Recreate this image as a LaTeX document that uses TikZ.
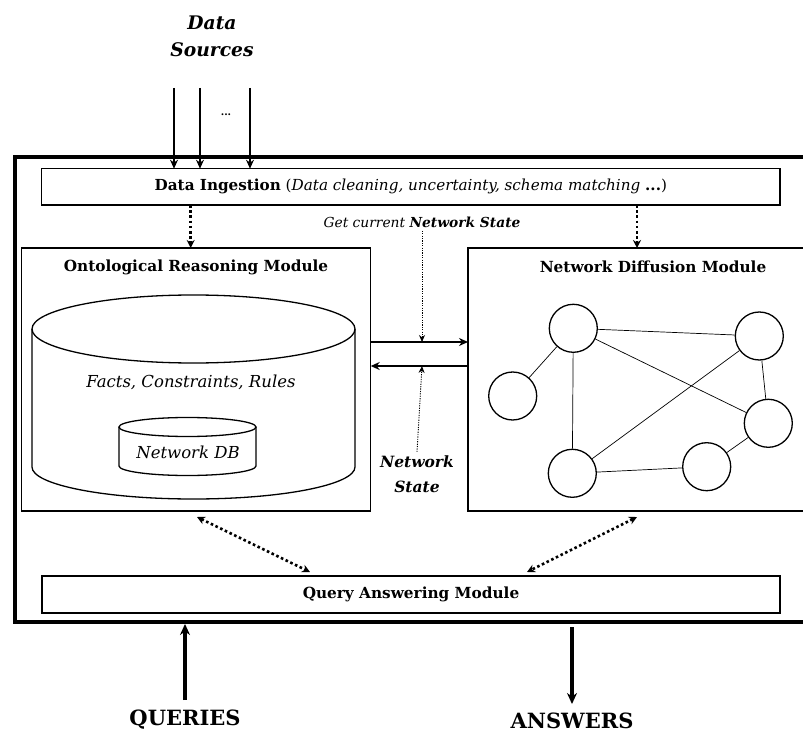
\documentclass[tikz,border=0pt]{standalone}
\usepackage{fontspec}
\setmainfont{DejaVu Serif}
\usetikzlibrary{arrows.meta}
\begin{document}
\begin{tikzpicture}[x=1pt,y=-1pt,
  box/.style={draw,line width=1.4pt,inner sep=0pt,outer sep=0pt},
  vtx/.style={draw,circle,line width=1.3pt,minimum size=48pt,inner sep=0pt},
  link/.style={line width=0.7pt},
  feed/.style={line width=2.6pt,-{Stealth[length=9pt,width=8pt]}},
  bigfeed/.style={line width=3.4pt,-{Stealth[length=11pt,width=10pt]}},
  dotfeed/.style={line width=2.6pt,dash pattern=on 2.6pt off 2.6pt,-{Stealth[length=8pt,width=8pt]}},
  dotboth/.style={line width=2.6pt,dash pattern=on 2.6pt off 2.6pt,{Stealth[length=8pt,width=8pt]}-{Stealth[length=8pt,width=8pt]}},
  thindot/.style={line width=0.9pt,dash pattern=on 1.2pt off 1.2pt,-{Stealth[length=7pt,width=6pt]}},
  title/.style={font=\bfseries\fontsize{15.3}{18}\selectfont},
  cyl/.style={line width=1.3pt}
]
\useasboundingbox (0,0) rectangle (803,735);
\clip (0,0) rectangle (803,735);

% outer frame (runs off the right edge)
\node[draw,line width=4pt,inner sep=0pt,anchor=north west,
      minimum width=860pt,minimum height=465pt] (frame) at (12.5,155) {};

% data ingestion bar
\node[box,anchor=north west,minimum width=738.3pt,minimum height=36.3pt,
      font=\fontsize{15.2}{18}\selectfont] (di) at (41.7,168.7)
  {\textbf{Data Ingestion} (\textit{Data cleaning, uncertainty, schema matching} \textbf{...})};

% data sources
\node[font=\bfseries\itshape\fontsize{18.7}{27}\selectfont,align=center] (src) at (212,36) {Data\\Sources};
\coordinate (s1) at (174,88);
\coordinate (s2) at (200,88);
\coordinate (s3) at (250,88);
\node[font=\bfseries\fontsize{10}{12}\selectfont] (dots) at (226,115) {...};
\draw[feed] (s1) -- (s1 |- di.north);
\draw[feed] (s2) -- (s2 |- di.north);
\draw[feed] (s3) -- (s3 |- di.north);

% ontological reasoning module
\node[box,anchor=north west,minimum width=349.2pt,minimum height=263pt] (orm) at (21.5,248) {};
\node[title] (ormt) at (196,267) {Ontological Reasoning Module};

% large cylinder
\draw[cyl] (193.5,329) ellipse [x radius=161.5, y radius=34];
\draw[cyl] (32,329) -- (32,467) arc[start angle=180,end angle=0,x radius=161.5,y radius=32] -- (355,329);
\node[font=\itshape\fontsize{16.5}{20}\selectfont] (facts) at (191,382) {Facts, Constraints, Rules};

% small cylinder
\draw[cyl] (187.5,427) ellipse [x radius=68.5, y radius=9.5];
\draw[cyl] (119,427) -- (119,466) arc[start angle=180,end angle=0,x radius=68.5,y radius=9.5] -- (256,427);
\node[font=\itshape\fontsize{16.5}{20}\selectfont] (ndb) at (188,452) {Network DB};

% network diffusion module
\node[box,anchor=north west,minimum width=370pt,minimum height=263pt] (nd) at (468,248) {};
\node[title] (ndt) at (653,267) {Network Diffusion Module};

\node[vtx] (c1) at (573.3,328.3) {};
\node[vtx] (c2) at (759.3,336) {};
\node[vtx] (c3) at (512.7,396) {};
\node[vtx] (c4) at (768.3,423.3) {};
\node[vtx] (c5) at (572.3,473.3) {};
\node[vtx] (c6) at (706.7,466.7) {};
\draw[link] (c1) -- (c2);
\draw[link] (c1) -- (c3);
\draw[link] (c1) -- (c5);
\draw[link] (c1) -- (c4);
\draw[link] (c2) -- (c5);
\draw[link] (c2) -- (c4);
\draw[link] (c5) -- (c6);
\draw[link] (c6) -- (c4);

% ingestion feeds
\draw[dotfeed] (di.south -| 190.7,0) -- (orm.north -| 190.7,0);
\draw[dotfeed] (di.south -| 637,0) -- (nd.north -| 637,0);

% network state exchange
\node[font=\itshape\fontsize{13.8}{16}\selectfont] (gc) at (422,222) {Get current \textbf{Network State}};
\coordinate (up) at (422,342);
\coordinate (lo) at (422,366);
\draw[feed] (orm.east |- up) -- (nd.west |- up);
\draw[feed] (nd.west |- lo) -- (orm.east |- lo);
\draw[thindot] (gc.south) -- (up);
\node[font=\bfseries\itshape\fontsize{15.5}{25}\selectfont,align=center] (ns) at (417,474) {Network\\State};
\draw[thindot] (ns.north) -- (lo);

% query answering module
\node[box,anchor=north west,minimum width=738pt,minimum height=37pt,title] (qa) at (42,576) {Query Answering Module};
\coordinate (ol) at (197,517);
\coordinate (ql) at (310,572);
\coordinate (or) at (637,517);
\coordinate (qr) at (527,572);
\draw[dotboth] (ol) -- (ql);
\draw[dotboth] (or) -- (qr);

% queries and answers
\node[font=\bfseries\fontsize{21}{26}\selectfont] (queries) at (185,720) {QUERIES};
\node[font=\bfseries\fontsize{21}{26}\selectfont] (answers) at (572,721) {ANSWERS};
\draw[bigfeed] (queries.north |- 0,700) -- (queries.north |- 0,624);
\draw[bigfeed] (answers.north |- 0,627) -- (answers.north |- 0,704);
\end{tikzpicture}
\end{document}
